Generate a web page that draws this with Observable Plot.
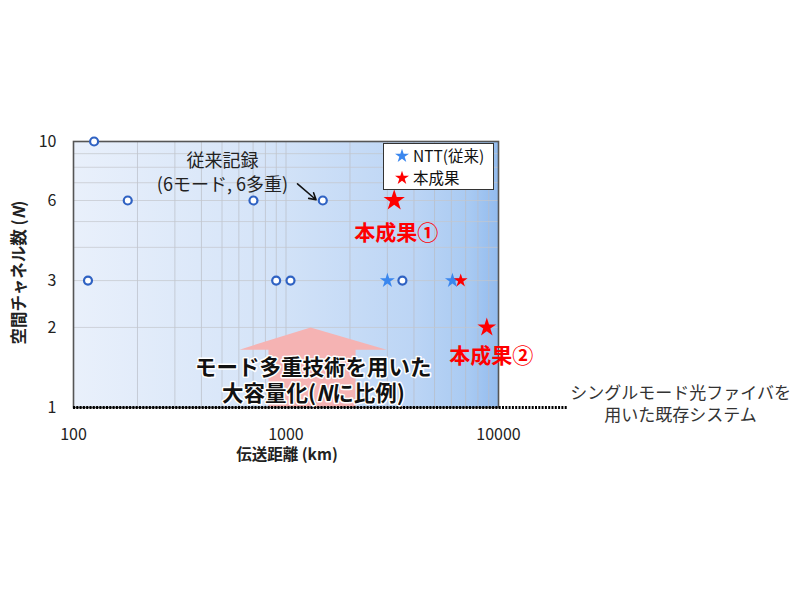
<!DOCTYPE html>
<html>
<head>
<meta charset="utf-8">
<script src="https://cdn.jsdelivr.net/npm/d3@7"></script>
<script src="https://cdn.jsdelivr.net/npm/@observablehq/plot@0.6"></script>
<style>
  html, body { margin: 0; padding: 0; background: #fff; }
  #wrap { position: relative; width: 800px; height: 600px; font-family: "Noto Sans CJK JP", sans-serif; }
  #legend { position: absolute; left: 383px; top: 143px; width: 109px; height: 45px;
    border: 1.5px solid #333; background: #fff; font-size: 15.5px; color: #111; }
  #legend .row { position: absolute; left: 10px; display: flex; align-items: center; white-space: nowrap; }
  #legend svg { overflow: visible; margin-right: 3px; }
</style>
</head>
<body>
<div id="wrap"></div>
<script>
// ---- data ----
const priorX = [125, 117, 180, 703, 899, 1050, 1490, 3530];   // 伝送距離 (km), 従来記録 (circles)
const priorY = [10, 3, 6, 6, 3, 3, 6, 3];                      // 空間チャネル数 N
const nttX = [3000, 6070];                                     // NTT(従来)
const nttY = [3, 3];
const thisX = [3230, 6640, 8810];                              // 本成果
const thisY = [6, 3, 2];
const thisTag = ["①", "", "②"];
const seriesNames = ["NTT(従来)", "本成果"];
const xTicks = [100, 1000, 10000];
const yTicks = [1, 2, 3, 6, 10];

const prior = priorX.map((x, i) => ({x, y: priorY[i]}));
const ntt = nttX.map((x, i) => ({x, y: nttY[i]}));
const thisWork = thisX.map((x, i) => ({x, y: thisY[i], tag: thisTag[i]}));

const blue = "#3b87ee", red = "#ff0000", circleBlue = "#2f62c3";
const font = "Noto Sans CJK JP";

const minorX = [2,3,4,5,6,7,8,9].flatMap(k => [k * 100, k * 1000]).concat([1000]);
const minorY = [2,3,4,5,6,7,8,9];

// big arrow outline in data units (km, N)
const bigArrow = [
  {x: 827, y: 1}, {x: 827, y: 1.65}, {x: 604, y: 1.65}, {x: 1305, y: 2.0},
  {x: 2976, y: 1.65}, {x: 2126, y: 1.65}, {x: 2126, y: 1}
];

const chart = Plot.plot({
  width: 800, height: 600,
  marginLeft: 73, marginRight: 302, marginTop: 141, marginBottom: 193,
  style: {fontFamily: font, fontSize: "16px", color: "#222", background: "transparent", overflow: "visible"},
  x: {type: "log", domain: [100, 10000]},
  y: {type: "log", domain: [1, 10]},
  r: {type: "identity"},
  marks: [
    Plot.frame({fill: "url(#bgGrad)", stroke: "none"}),
    Plot.gridX(minorX, {stroke: "#b9bec6", strokeOpacity: 0.7, strokeWidth: 1}),
    Plot.gridY(minorY, {stroke: "#c3c6cc", strokeOpacity: 0.7, strokeWidth: 1}),
    Plot.line(bigArrow, {x: "x", y: "y", fill: "#f5b3b3", stroke: "none", curve: "linear"}),
    Plot.frame({stroke: "#555", strokeWidth: 1.6}),
    Plot.ruleY([1], {x1: 100, x2: 21200, stroke: "#000", strokeWidth: 3.2, strokeDasharray: "2,1.3"}),
    Plot.axisX({ticks: xTicks, tickSize: 0, tickPadding: 21, tickFormat: d => String(d), label: null, fontSize: 16}),
    Plot.axisY({ticks: yTicks, tickSize: 0, tickPadding: 17, tickFormat: d => String(d), label: null, fontSize: 16}),
    Plot.text(["伝送距離 (km)"], {frameAnchor: "bottom", dy: 48, dx: 1, fontWeight: "bold", fontSize: 15.5, lineAnchor: "middle", fill: "#222"}),
    Plot.text(["空間チャネル数 (N)"], {frameAnchor: "left", dx: -54, dy: -2, rotate: -90, textAnchor: "middle", fontWeight: "bold", fontSize: 16.5, lineAnchor: "middle", fill: "#222"}),
    // 従来記録 annotation
    Plot.text(["従来記録\n(6モード, 6多重)"], {x: () => 502, y: () => 7.75, fontSize: 18, lineHeight: 1.33, fill: "#222", lineAnchor: "middle"}),
    Plot.arrow([0], {x1: () => 1133, y1: () => 6.93, x2: () => 1385, y2: () => 6.04, stroke: "#111", strokeWidth: 1.6, headLength: 7}),
    // points
    Plot.dot(prior, {x: "x", y: "y", r: 4, stroke: circleBlue, strokeWidth: 2.2, fill: "#fff"}),
    Plot.dot(ntt, {x: "x", y: "y", symbol: "star", r: 4.7, fill: blue, stroke: "none"}),
    Plot.dot(thisWork, {x: "x", y: "y", symbol: "star", r: d => d.tag ? (d.y > 3 ? 6.7 : 5.9) : 4.3, fill: red, stroke: "none"}),
    // result labels
    Plot.text(thisWork.filter(d => d.tag), {x: d => d.y > 3 ? 3300 : 9250, y: d => d.y > 3 ? 4.5 : 1.564,
      text: d => "本成果" + d.tag, fill: red, fontWeight: "bold", fontSize: 21, lineAnchor: "middle"}),
    // big message
    Plot.text(["モード多重技術を用いた\n大容量化(Nに比例)"], {x: () => 1345, y: () => 1.27, fontSize: 21.5, lineHeight: 1.17,
      fontWeight: "bold", fill: "#111", stroke: "#fff", strokeWidth: 3, paintOrder: "stroke", lineAnchor: "middle"}),
    // existing systems note
    Plot.text(["シングルモード光ファイバを\n用いた既存システム"], {x: () => 71900, y: () => 1.037, fontSize: 17, lineHeight: 1.25,
      fill: "#333", lineAnchor: "middle"})
  ]
});

// gradient background for the frame
const defs = d3.select(chart).insert("defs", ":first-child");
const grad = defs.append("linearGradient").attr("id", "bgGrad").attr("x1", "0%").attr("x2", "100%").attr("y1", "0%").attr("y2", "0%");
[["0%", "#e9f0fb"], ["45%", "#d5e4f8"], ["80%", "#bcd5f5"], ["93%", "#a9caf2"], ["100%", "#92bbee"]]
  .forEach(([o, c]) => grad.append("stop").attr("offset", o).attr("stop-color", c));

// italic N in mixed texts
function italicN(full) {
  d3.select(chart).selectAll("text, tspan").filter(function() {
    return this.childElementCount === 0 && this.textContent === full;
  }).each(function() {
    const el = d3.select(this);
    const [a, b] = full.split("N");
    el.text(null);
    el.append("tspan").text(a);
    el.append("tspan").attr("font-style", "italic").text("N");
    el.append("tspan").text(b);
  });
}
italicN("大容量化(Nに比例)");
italicN("空間チャネル数 (N)");

const wrap = document.getElementById("wrap");
wrap.appendChild(chart);

// legend inside the plot
const legend = d3.select(wrap).append("div").attr("id", "legend");
const starPath = d3.symbol(d3.symbolStar, Math.PI * 4.4 * 4.4)();
[[seriesNames[0], blue, 8], [seriesNames[1], red, 30]].forEach(([name, color, top]) => {
  const row = legend.append("div").attr("class", "row").style("top", (top - 8) + "px");
  const s = row.append("svg").attr("width", 16).attr("height", 16).attr("viewBox", "-8 -8 16 16");
  s.append("path").attr("d", starPath).attr("fill", color).attr("transform", "translate(0,1)");
  row.append("span").text(name);
});
</script>
</body>
</html>
